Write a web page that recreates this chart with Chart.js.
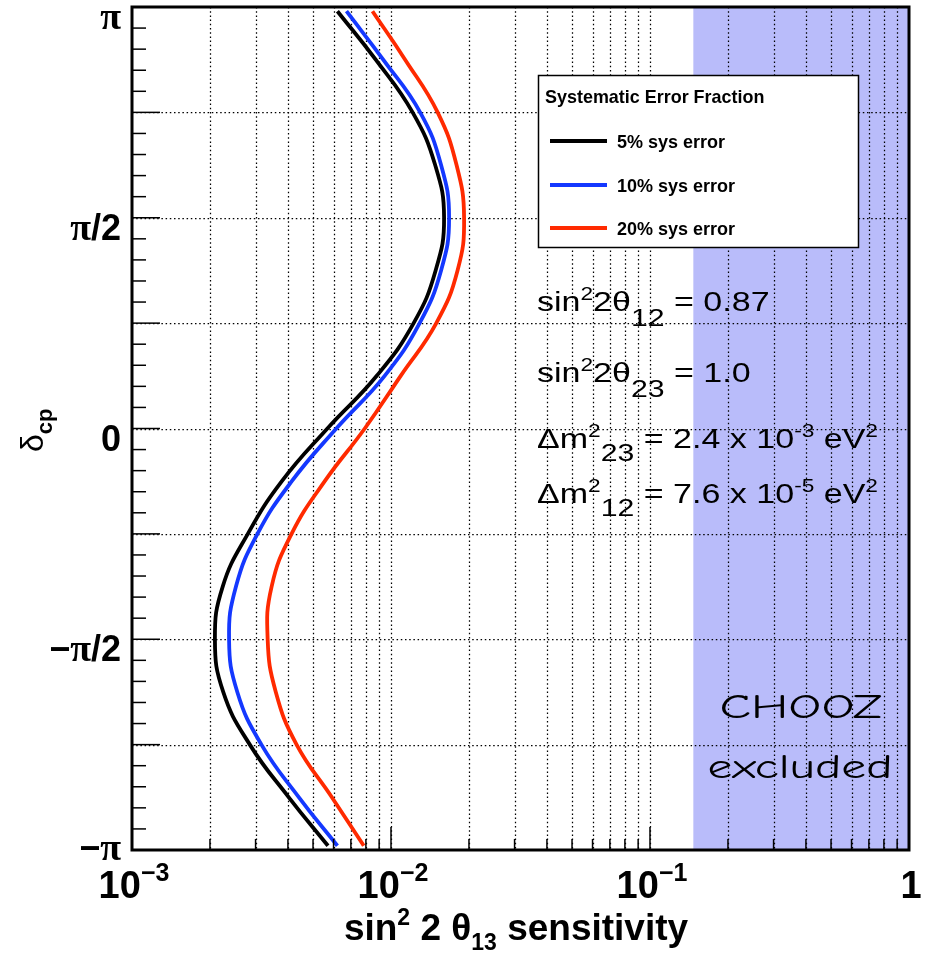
<!DOCTYPE html>
<html><head><meta charset="utf-8">
<script src="https://cdn.jsdelivr.net/npm/chart.js@4.4.1/dist/chart.umd.min.js"></script>
<style>html,body{margin:0;padding:0;background:#fff;}#wrap{width:929px;height:956px;}</style>
</head><body><div id="wrap"><canvas id="c" width="929" height="956"></canvas></div>
<script>
// delta_CP in units of pi
const deltaOverPi = [-0.99,-0.875,-0.75,-0.625,-0.5,-0.375,-0.25,-0.125,0,0.125,0.25,0.375,0.5,0.625,0.75,0.875,0.99];
const sens5  = [0.00571,0.00403,0.00285,0.00225,0.00209,0.00224,0.00280,0.00379,0.00568,0.00881,0.01223,0.01487,0.01603,0.01481,0.01212,0.00873,0.00621];
const sens10 = [0.00621,0.00441,0.00316,0.00255,0.00237,0.00252,0.00305,0.00414,0.00615,0.00945,0.01290,0.01561,0.01676,0.01561,0.01296,0.00933,0.00673];
const sens20 = [0.00785,0.00591,0.00432,0.00359,0.00334,0.00346,0.00413,0.00555,0.00792,0.01090,0.01496,0.01807,0.01915,0.01791,0.01514,0.01134,0.00848];
const seriesLabels = ['5% sys error','10% sys error','20% sys error'];
const seriesColors = ['#000000','#1438ff','#ff2a00'];
const legendTitle = 'Systematic Error Fraction';
const choozLimit = 0.147;
const xDecades = [0.001,0.01,0.1,1];
const xDecadeLabels = [['10','−3'],['10','−2'],['10','−1'],['1','']];
const yTickValues = [-1,-0.5,0,0.5,1];
const yTickLabels = ['−π','−π/2','0','π/2','π'];

const SANS = '"Liberation Sans", Arial, Helvetica, sans-serif';
const SERIF = '"Liberation Serif", "Times New Roman", serif';

function richWidth(ctx, segs){ let w=0; for(const s of segs){ ctx.font=s.font; w+=ctx.measureText(s.t).width; } return w; }
function drawRich(ctx, x, y, segs, sx, align){
  sx = sx||1; align = align||'left';
  ctx.save();
  const w = richWidth(ctx, segs)*sx;
  const x0 = align==='center' ? x-w/2 : (align==='right' ? x-w : x);
  ctx.translate(x0, y); ctx.scale(sx,1);
  ctx.textBaseline='alphabetic'; ctx.textAlign='left';
  let cx=0;
  for(const s of segs){ ctx.font=s.font; ctx.fillStyle='#000'; ctx.fillText(s.t, cx, s.dy||0); cx+=ctx.measureText(s.t).width; }
  ctx.restore();
}
function ySegs(label){
  const segs=[];
  for(const ch of label){
    const f = ch==='π' ? `bold 38px ${SERIF}` : `bold 36px ${SANS}`;
    if(segs.length && segs[segs.length-1].font===f) segs[segs.length-1].t+=ch; else segs.push({t:ch,font:f});
  }
  return segs;
}

const decor = {
  id:'decor',
  beforeDraw(chart){
    const ctx=chart.ctx, a=chart.chartArea, xs=chart.scales.x, ys=chart.scales.y;
    ctx.save();
    ctx.fillStyle='#fff'; ctx.fillRect(0,0,chart.width,chart.height);
    const cx = xs.getPixelForValue(choozLimit);
    ctx.fillStyle='rgb(185,188,250)';
    ctx.fillRect(cx, a.top, a.right-cx, a.bottom-a.top);
    // dotted grid
    ctx.strokeStyle='#000'; ctx.lineWidth=1.25; ctx.setLineDash([1.5,2.7]);
    for(let n=-3;n<=-1;n++){
      for(let k=1;k<=9;k++){
        const v=k*Math.pow(10,n); if(n===-3&&k===1) continue;
        const px=Math.round(xs.getPixelForValue(v))+0.5;
        ctx.beginPath(); ctx.moveTo(px,a.top); ctx.lineTo(px,a.bottom); ctx.stroke();
      }
    }
    for(let i=-3;i<=3;i++){
      const py=Math.round(ys.getPixelForValue(i*0.25))+0.5;
      ctx.beginPath(); ctx.moveTo(a.left,py); ctx.lineTo(a.right,py); ctx.stroke();
    }
    ctx.restore();
  },
  afterDatasetsDraw(chart){
    const ctx=chart.ctx, a=chart.chartArea, xs=chart.scales.x, ys=chart.scales.y;
    ctx.save();
    ctx.setLineDash([]); ctx.strokeStyle='#000'; ctx.lineWidth=1.5;
    // y ticks (inside)
    for(let i=-19;i<=19;i++){
      const py=ys.getPixelForValue(i/20);
      const len = (i%5===0) ? 28 : 14;
      ctx.beginPath(); ctx.moveTo(a.left,py); ctx.lineTo(a.left+len,py); ctx.stroke();
    }
    // x ticks (inside, bottom)
    for(let n=-3;n<=-1;n++){
      for(let k=1;k<=9;k++){
        if(n===-3&&k===1) continue;
        const px=xs.getPixelForValue(k*Math.pow(10,n));
        const len = k===1 ? 23 : 11;
        ctx.beginPath(); ctx.moveTo(px,a.bottom); ctx.lineTo(px,a.bottom-len); ctx.stroke();
      }
    }
    // frame
    ctx.lineWidth=3;
    ctx.strokeRect(a.left,a.top,a.right-a.left,a.bottom-a.top);
    // y tick labels
    yTickValues.forEach((v,i)=>{
      const py=ys.getPixelForValue(v);
      const c=Math.min(py+9, a.bottom-3);
      drawRich(ctx, 121, c+13, ySegs(yTickLabels[i]), 1, 'right');
    });
    // x tick labels
    xDecades.forEach((v,i)=>{
      const px=xs.getPixelForValue(v);
      const segs=[{t:xDecadeLabels[i][0], font:`bold 38px ${SANS}`}];
      if(xDecadeLabels[i][1]) segs.push({t:xDecadeLabels[i][1], font:`bold 25px ${SANS}`, dy:-17});
      drawRich(ctx, px+2, 898, segs, 1, 'center');
    });
    // x title
    drawRich(ctx, 516, 940, [
      {t:'sin', font:`bold 37px ${SANS}`},
      {t:'2', font:`bold 23px ${SANS}`, dy:-15},
      {t:' 2 θ', font:`bold 37px ${SANS}`},
      {t:'13', font:`bold 23px ${SANS}`, dy:10},
      {t:' sensitivity', font:`bold 37px ${SANS}`}
    ], 1, 'center');
    // y title
    ctx.save(); ctx.translate(43, 452); ctx.rotate(-Math.PI/2);
    drawRich(ctx, 0, 0, [{t:'δ', font:`32px ${SANS}`},{t:'cp', font:`bold 22px ${SANS}`, dy:9}], 1, 'left');
    ctx.restore();
    // annotation text
    const F=`27px ${SANS}`, SUP=`18px ${SANS}`, SUB=`24px ${SANS}`;
    const sx=1.26;
    drawRich(ctx, 537, 311, [{t:'sin',font:F},{t:'2',font:SUP,dy:-11},{t:'2θ',font:F},{t:'12',font:SUB,dy:15},{t:' = 0.87',font:F}], sx);
    drawRich(ctx, 537, 382, [{t:'sin',font:F},{t:'2',font:SUP,dy:-11},{t:'2θ',font:F},{t:'23',font:SUB,dy:15},{t:' = 1.0',font:F}], sx);
    drawRich(ctx, 537, 448, [{t:'Δm',font:F},{t:'2',font:SUP,dy:-11},{t:'23',font:SUB,dy:13},{t:' = 2.4 x 10',font:F},{t:'-3',font:SUP,dy:-11},{t:' eV',font:F},{t:'2',font:SUP,dy:-11}], sx);
    drawRich(ctx, 537, 503, [{t:'Δm',font:F},{t:'2',font:SUP,dy:-11},{t:'12',font:SUB,dy:13},{t:' = 7.6 x 10',font:F},{t:'-5',font:SUP,dy:-11},{t:' eV',font:F},{t:'2',font:SUP,dy:-11}], sx);
    // CHOOZ text
    const CF=`35px "Comic Sans MS", "Comic Neue", "DejaVu Sans", sans-serif`;
    ctx.font=CF;
    const w1=ctx.measureText('CHOOZ').width, w2=ctx.measureText('excluded').width;
    drawRich(ctx, 801, 718, [{t:'CHOOZ',font:CF}], 163/w1, 'center');
    drawRich(ctx, 800, 778, [{t:'excluded',font:CF}], 185/w2, 'center');
    // legend
    ctx.fillStyle='#fff'; ctx.fillRect(538,75,321,173);
    ctx.lineWidth=1.5; ctx.strokeStyle='#000'; ctx.strokeRect(538.5,75.5,320,172);
    drawRich(ctx, 545, 103, [{t:legendTitle, font:`bold 18.5px ${SANS}`}], 0.97);
    const ly=[141,185,228];
    seriesLabels.forEach((lab,i)=>{
      ctx.strokeStyle=seriesColors[i]; ctx.lineWidth=4;
      ctx.beginPath(); ctx.moveTo(550,ly[i]); ctx.lineTo(607,ly[i]); ctx.stroke();
      drawRich(ctx, 617, ly[i]+6.5, [{t:lab, font:`bold 18px ${SANS}`}], 1);
    });
    ctx.restore();
  }
};

const allSeries=[sens5,sens10,sens20];
new Chart(document.getElementById('c'), {
  type:'scatter',
  data:{ datasets: seriesLabels.map((lab,i)=>({
    label:lab,
    data: deltaOverPi.map((d,j)=>({x:allSeries[i][j], y:d})),
    borderColor:seriesColors[i], backgroundColor:seriesColors[i],
    borderWidth:3.8, pointRadius:0, showLine:true, tension:0.45, fill:false
  }))},
  options:{
    responsive:false, animation:false, devicePixelRatio:1, events:[],
    layout:{padding:{top:7,right:20,left:0,bottom:0}},
    plugins:{legend:{display:false}, tooltip:{enabled:false}},
    scales:{
      x:{type:'logarithmic', min:0.001, max:1, ticks:{display:false}, grid:{display:false}, border:{display:false},
         afterFit(s){ s.height=106; }},
      y:{type:'linear', min:-1, max:1, ticks:{display:false}, grid:{display:false}, border:{display:false},
         afterFit(s){ s.width=132; }}
    }
  },
  plugins:[decor]
});
</script></body></html>
